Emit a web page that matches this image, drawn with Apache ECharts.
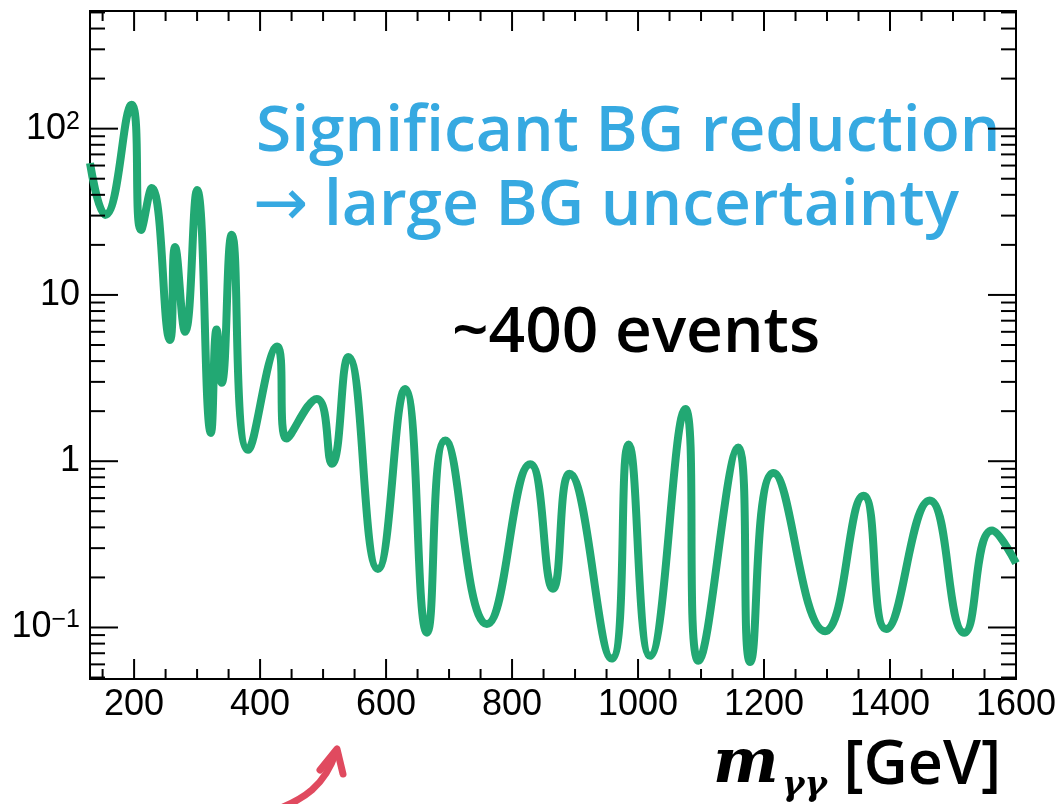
<!DOCTYPE html>
<html>
<head>
<meta charset="utf-8">
<title>m_γγ spectrum</title>
<script src="https://cdn.jsdelivr.net/npm/echarts@6/dist/echarts.min.js"></script>
<style>
 html, body { margin: 0; padding: 0; background: #fff; }
 #main { width: 1063px; height: 804px; }
</style>
</head>
<body>
<div id="main"></div>
<script>
 // curve (peaks / troughs)
 const massGeV = [130, 154, 196, 211, 228, 257, 265, 281, 300, 322,
  331, 339, 355, 381, 427, 442, 490, 514, 540, 587,
  630, 665, 694, 760, 829, 865, 891, 958, 985, 1019,
  1075, 1096, 1159, 1178, 1215, 1297, 1358, 1394, 1463, 1518,
  1562, 1600];
 const events = [62, 30.3, 139, 24.6, 44, 5.36, 19.4, 6.0, 42.8, 1.48,
  6.2, 2.96, 23, 1.17, 4.89, 1.37, 2.37, 0.964, 4.24, 0.225,
  2.72, 0.093, 1.33, 0.105, 0.96, 0.171, 0.84, 0.065, 1.26, 0.0675,
  2.06, 0.063, 1.21, 0.062, 0.85, 0.095, 0.62, 0.098, 0.58, 0.093,
  0.383, 0.244];

 // axes
 const X_MIN = 130, X_MAX = 1600;
 const Y_MIN = 0.049, Y_MAX = 510;
 const xTickLabels = [200, 400, 600, 800, 1000, 1200, 1400, 1600];
 const xMinorTicks = [150, 250, 300, 350, 450, 500, 550, 650, 700, 750, 850, 900, 950,
  1050, 1100, 1150, 1250, 1300, 1350, 1450, 1500, 1550];
 const yTickLabels = [0.1, 1, 10, 100];
 const yMinorTicks = [0.05, 0.06, 0.07, 0.08, 0.09, 0.2, 0.3, 0.4, 0.5, 0.6, 0.7, 0.8, 0.9,
  2, 3, 4, 5, 6, 7, 8, 9, 20, 30, 40, 50, 60, 70, 80, 90, 200, 300, 400, 500];

 const GREEN = '#22a873';
 const BLUE = '#36a9e1';
 const RED = '#e04a5f';

 const lineData = massGeV.map((m, i) => [m, events[i]]);
 const xTickData = xTickLabels.map(v => [v, Y_MIN, 1]).concat(xMinorTicks.map(v => [v, Y_MIN, 0]));
 const yTickData = yTickLabels.map(v => [X_MIN, v, 1]).concat(yMinorTicks.map(v => [X_MIN, v, 0]));

 const tickStyle = { stroke: '#000', lineWidth: 2 };

 // 上下两条边的刻度
 function renderXTick(params, api) {
  const cs = params.coordSys;
  const px = api.coord([api.value(0), Y_MIN])[0];
  const len = api.value(2) ? 20 : 10;
  const bottom = cs.y + cs.height;
  return {
   type: 'group',
   children: [
    { type: 'line', shape: { x1: px, y1: bottom, x2: px, y2: bottom - len }, style: tickStyle },
    { type: 'line', shape: { x1: px, y1: cs.y, x2: px, y2: cs.y + len }, style: tickStyle }
   ]
  };
 }

 // 左右两条边的刻度
 function renderYTick(params, api) {
  const cs = params.coordSys;
  const py = api.coord([X_MIN, api.value(1)])[1];
  const len = api.value(2) ? 28 : 15;
  const right = cs.x + cs.width;
  return {
   type: 'group',
   children: [
    { type: 'line', shape: { x1: cs.x, y1: py, x2: cs.x + len, y2: py }, style: tickStyle },
    { type: 'line', shape: { x1: right, y1: py, x2: right - len, y2: py }, style: tickStyle }
   ]
  };
 }

 function yLabel(v) {
  const e = Math.round(Math.log10(v));
  if (e === 0) return '1';
  if (e === 1) return '10';
  return '10{sup|' + (e < 0 ? '\u2212' : '') + Math.abs(e) + '}';
 }

 const myChart = echarts.init(document.getElementById('main'));

 const option = {
  animation: false,
  grid: {
   left: 90, right: 47, top: 11, bottom: 125,
   show: true, borderColor: '#000', borderWidth: 2,
   backgroundColor: 'transparent'
  },
  xAxis: {
   type: 'value',
   min: X_MIN,
   max: X_MAX,
   splitNumber: 7,
   axisLine: { show: false },
   axisTick: { show: false },
   splitLine: { show: false },
   axisLabel: {
    customValues: xTickLabels,
    formatter: v => String(v),
    margin: 8,
    color: '#000',
    fontSize: 36,
    fontFamily: '"Liberation Sans", Arial, sans-serif'
   }
  },
  yAxis: {
   type: 'log',
   logBase: 10,
   min: Y_MIN,
   max: Y_MAX,
   axisLine: { show: false },
   axisTick: { show: false },
   splitLine: { show: false },
   axisLabel: {
    customValues: yTickLabels,
    formatter: yLabel,
    margin: 10,
    color: '#000',
    fontSize: 36,
    fontFamily: '"Liberation Sans", Arial, sans-serif',
    rich: {
     sup: {
      fontSize: 25,
      color: '#000',
      fontFamily: '"Liberation Sans", Arial, sans-serif',
      verticalAlign: 'top',
      padding: [0, 0, 14, 0]
     }
    }
   }
  },
  graphic: [
   {
    type: 'text', x: 256, y: 133,
    style: { text: 'Significant BG reduction', font: '600 64px "Open Sans"', fill: BLUE, verticalAlign: 'middle' }
   },
   {
    type: 'text', x: 253, y: 208,
    style: { text: '\u2192', font: '400 66px "DejaVu Sans"', fill: BLUE, verticalAlign: 'middle' }
   },
   {
    type: 'text', x: 324, y: 207,
    style: { text: 'large BG uncertainty', font: '600 64px "Open Sans"', fill: '#36a9e1', verticalAlign: 'middle' }
   },
   {
    type: 'text', x: 452, y: 334,
    style: { text: '~400 events', font: '600 64px "Open Sans"', fill: '#000', verticalAlign: 'middle' }
   },
   {
    type: 'text', x: 713, y: 766,
    style: { text: 'm', font: 'italic bold 62px "DejaVu Serif"', fill: '#000', verticalAlign: 'middle' }
   },
   {
    type: 'text', x: 782, y: 786,
    style: { text: 'γγ', font: 'italic bold 34px "DejaVu Serif"', fill: '#000', verticalAlign: 'middle' }
   },
   {
    type: 'text', x: 1001, y: 767,
    style: { text: '[GeV]', font: '600 61px "Open Sans"', fill: '#000', align: 'right', verticalAlign: 'middle' }
   },
   // 红色箭头
   {
    type: 'bezierCurve',
    shape: { x1: 270, y1: 812, cpx1: 305, cpy1: 800, cpx2: 325, cpy2: 785, x2: 336, y2: 752 },
    style: { stroke: RED, lineWidth: 7, fill: null, lineCap: 'round' }
   },
   {
    type: 'polyline',
    shape: { points: [[320, 770], [337, 749], [343, 774]] },
    style: { stroke: RED, lineWidth: 7, fill: null, lineCap: 'round', lineJoin: 'round' }
   }
  ],
  series: [
   {
    type: 'line',
    data: lineData,
    smooth: 0.5,
    showSymbol: false,
    lineStyle: { color: GREEN, width: 8 },
    z: 2
   },
   {
    type: 'custom',
    renderItem: renderXTick,
    data: xTickData,
    encode: { x: 0, y: 1 },
    clip: false,
    silent: true,
    z: 3
   },
   {
    type: 'custom',
    renderItem: renderYTick,
    data: yTickData,
    encode: { x: 0, y: 1 },
    clip: false,
    silent: true,
    z: 3
   }
  ]
 };

 myChart.setOption(option);
</script>
</body>
</html>
